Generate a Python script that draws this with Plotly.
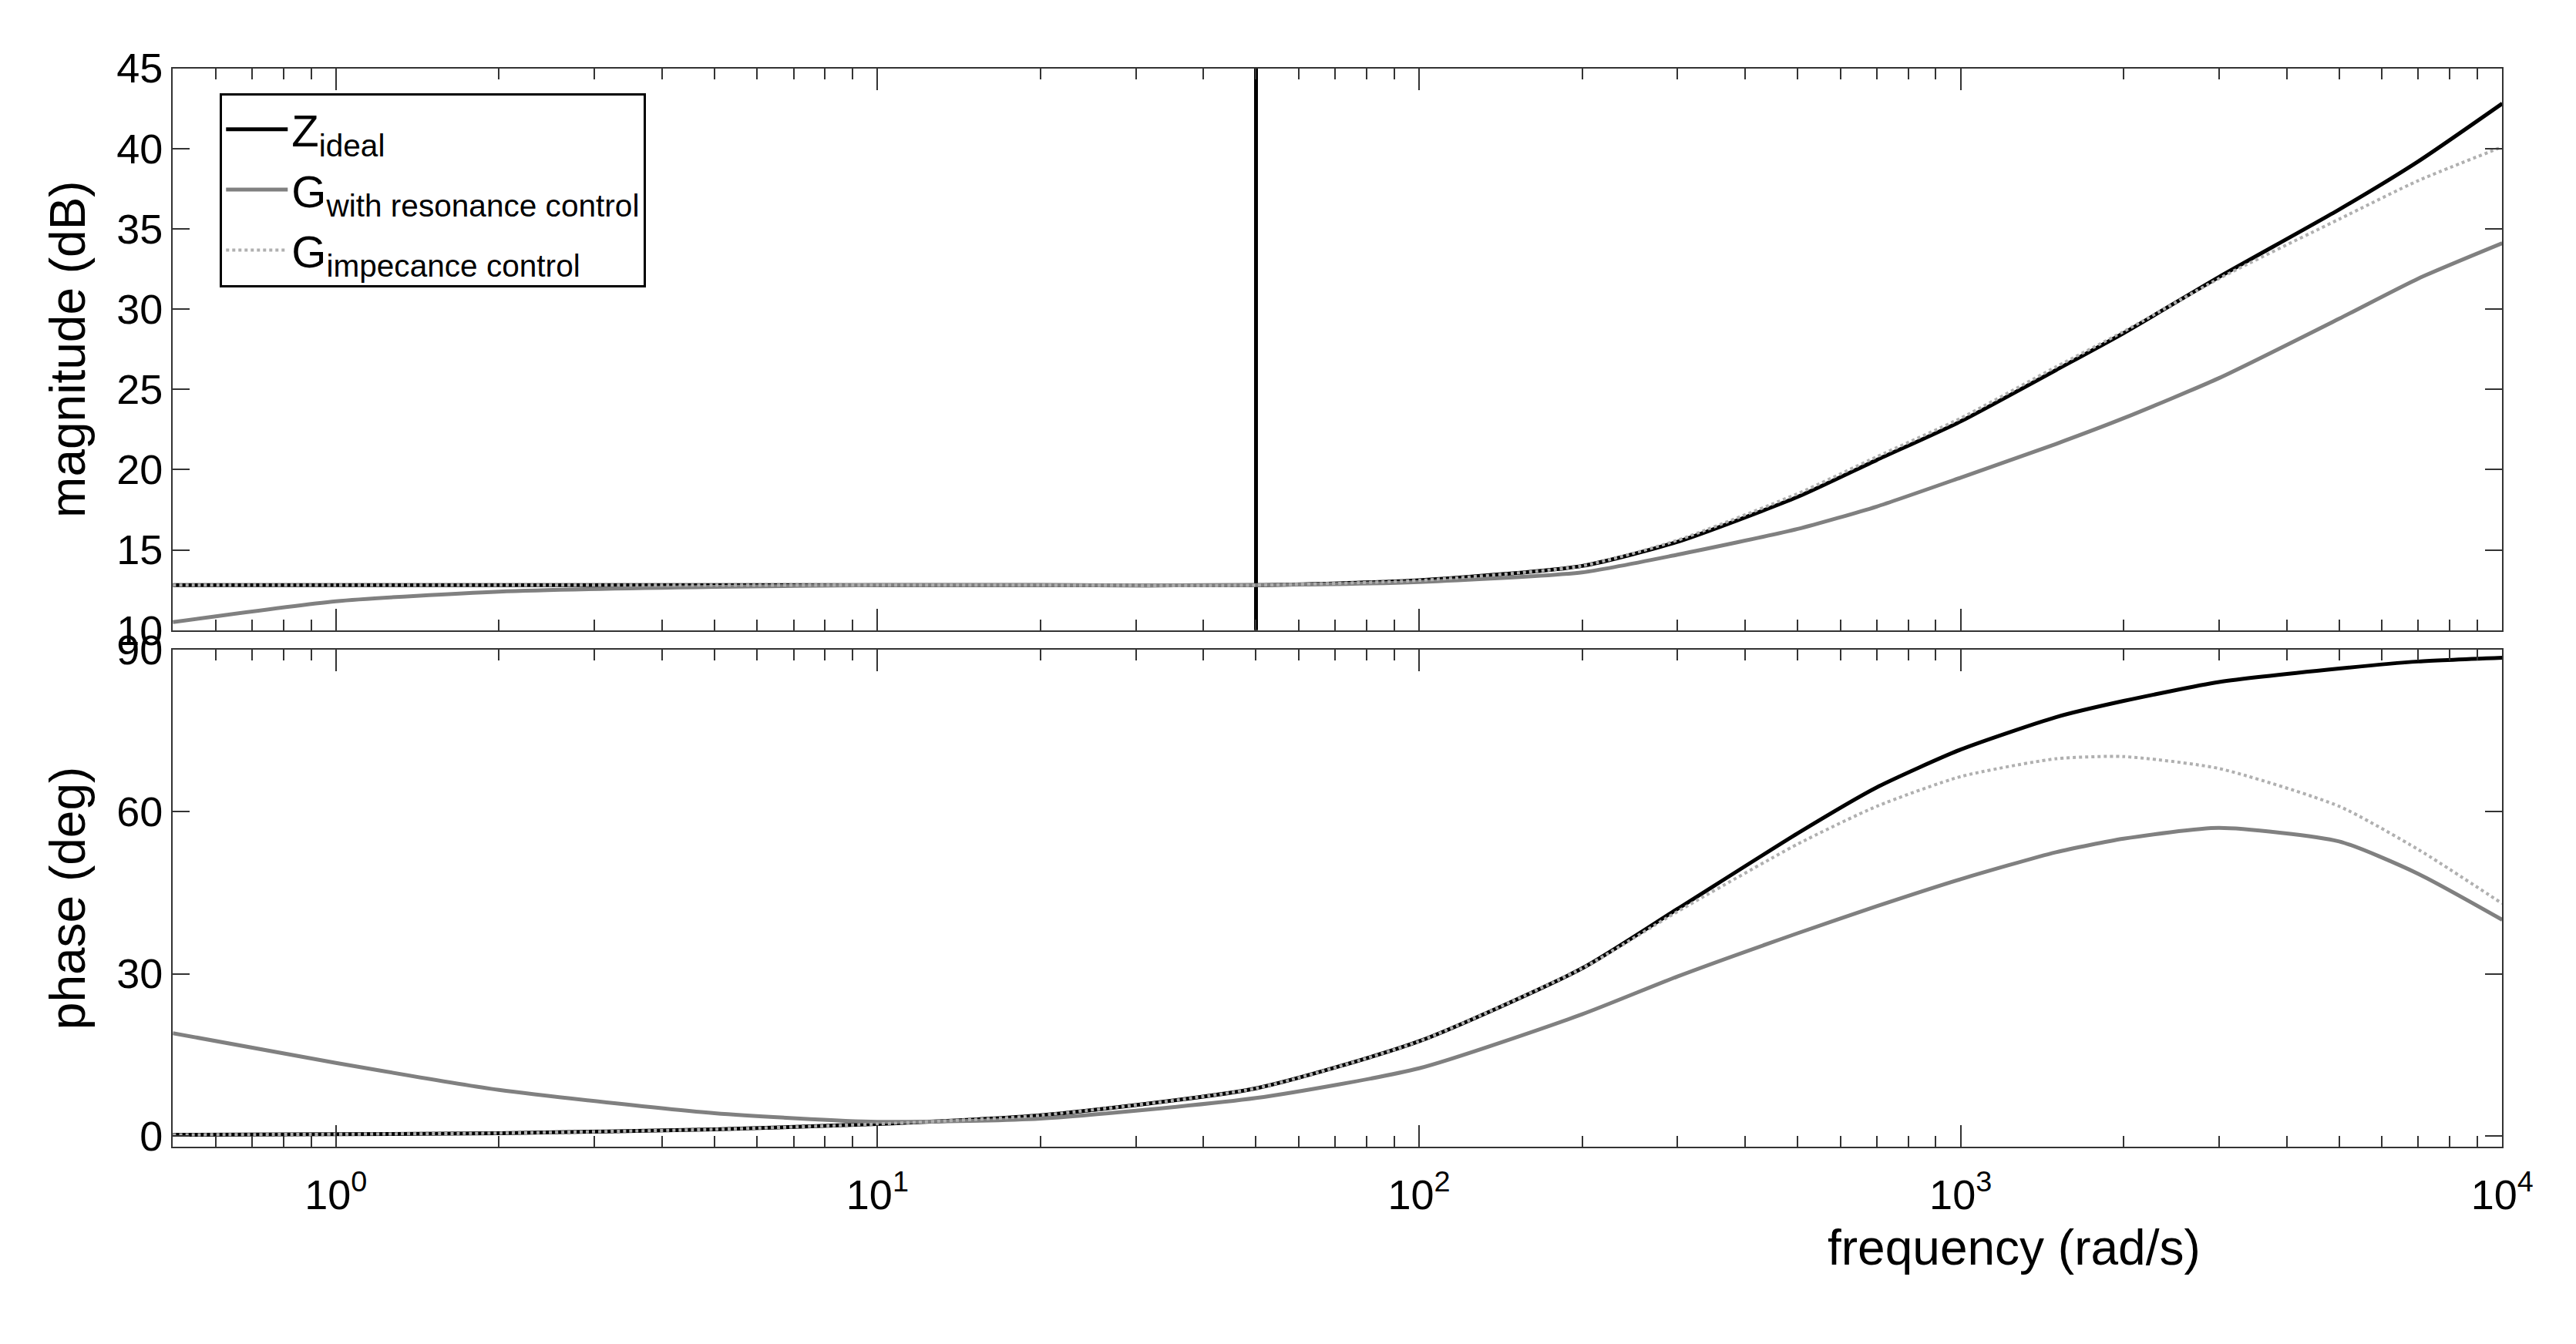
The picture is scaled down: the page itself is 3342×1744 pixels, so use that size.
import plotly.graph_objects as go

# frequency grid (rad/s) and read-off values
freq = [0.5, 1, 2, 5, 10, 20, 50, 100, 200, 300, 500, 700, 1000, 1500, 2000, 3000, 5000, 7000, 10000]

mag_ideal = [12.8, 12.8, 12.8, 12.8, 12.8, 12.8, 12.8, 13.1, 14.0, 15.5, 18.3, 20.6, 23.0, 26.2, 28.5, 32.0, 36.2, 39.2, 42.8]
mag_res = [10.5, 11.8, 12.4, 12.7, 12.8, 12.8, 12.8, 13.0, 13.6, 14.7, 16.3, 17.7, 19.5, 21.6, 23.2, 25.7, 29.4, 31.9, 34.1]
mag_imp = [12.8, 12.8, 12.8, 12.8, 12.8, 12.8, 12.8, 13.1, 14.0, 15.6, 18.5, 20.8, 23.2, 26.4, 28.6, 31.9, 35.6, 38.0, 40.1]

# vertical spike of Z_ideal at 50 rad/s
spike_f = [50, 50]
spike_mag = [46, 9]

ph_ideal = [0.2, 0.3, 0.5, 1.2, 2.2, 3.8, 8.8, 17.5, 31.0, 42.0, 56.0, 64.5, 71.5, 77.5, 80.5, 84.0, 86.5, 87.8, 88.5]
ph_res = [19.0, 13.5, 8.5, 4.2, 2.6, 3.2, 7.0, 12.5, 22.5, 29.5, 37.5, 42.5, 47.5, 52.5, 55.0, 57.0, 54.5, 48.5, 40.0]
ph_imp = [0.2, 0.3, 0.5, 1.2, 2.2, 3.8, 8.8, 17.5, 31.0, 41.5, 54.0, 61.0, 66.5, 69.8, 70.2, 68.0, 61.0, 53.0, 43.0]

BLACK = "#000000"
GRAY = "#808080"
LIGHT = "#b0b0b0"

fig = go.Figure()
fig.add_trace(go.Scatter(x=freq, y=mag_ideal, mode="lines", line=dict(color=BLACK, width=5, shape="spline", smoothing=0.6),
                         name="Z<sub>ideal</sub>", xaxis="x", yaxis="y"))
fig.add_trace(go.Scatter(x=spike_f, y=spike_mag, mode="lines", line=dict(color=BLACK, width=5),
                         showlegend=False, xaxis="x", yaxis="y"))
fig.add_trace(go.Scatter(x=freq, y=mag_res, mode="lines", line=dict(color=GRAY, width=5, shape="spline", smoothing=0.6),
                         name="G<sub>with resonance control</sub>", xaxis="x", yaxis="y"))
fig.add_trace(go.Scatter(x=freq, y=mag_imp, mode="lines", line=dict(color=LIGHT, width=4, dash="dot", shape="spline", smoothing=0.6),
                         name="G<sub>impecance control</sub>", xaxis="x", yaxis="y"))
fig.add_trace(go.Scatter(x=freq, y=ph_ideal, mode="lines", line=dict(color=BLACK, width=5, shape="spline", smoothing=0.6),
                         showlegend=False, xaxis="x2", yaxis="y2"))
fig.add_trace(go.Scatter(x=freq, y=ph_res, mode="lines", line=dict(color=GRAY, width=5, shape="spline", smoothing=0.6),
                         showlegend=False, xaxis="x2", yaxis="y2"))
fig.add_trace(go.Scatter(x=freq, y=ph_imp, mode="lines", line=dict(color=LIGHT, width=4, dash="dot", shape="spline", smoothing=0.6),
                         showlegend=False, xaxis="x2", yaxis="y2"))

font = dict(family="Liberation Sans, Arial", color="black")
xlog = dict(type="log", range=[-0.30103, 4], domain=[0.0655, 0.981],
            showline=True, linecolor="#333", linewidth=2, mirror="allticks",
            ticks="inside", ticklen=28, tickwidth=2, tickcolor="#333",
            tickvals=[1, 10, 100, 1000, 10000],
            minor=dict(ticks="inside", ticklen=14, tickwidth=2, tickcolor="#333",
                       tickvals=[m * 10 ** e for e in range(-1, 4) for m in range(2, 10) if 0.5 <= m * 10 ** e <= 10000]),
            showgrid=False, zeroline=False, tickfont=dict(size=54))
yax = dict(showline=True, linecolor="#333", linewidth=2, mirror="allticks",
           ticks="inside", ticklen=22, tickwidth=2, tickcolor="#333", showgrid=False, zeroline=False,
           tickfont=dict(size=54))
fig.update_layout(
    width=3342, height=1744, paper_bgcolor="white", plot_bgcolor="white",
    margin=dict(l=0, r=0, t=0, b=0), font=font,
    xaxis=dict(xlog, anchor="y", showticklabels=False),
    xaxis2=dict(xlog, anchor="y2", ticktext=["10<sup>0</sup>", "10<sup>1</sup>", "10<sup>2</sup>", "10<sup>3</sup>", "10<sup>4</sup>"],
                ticklabelstandoff=14),
    yaxis=dict(yax, domain=[0.537, 0.970], range=[10, 45], dtick=5, anchor="x",
               title=dict(text="magnitude (dB)", font=dict(size=64), standoff=20)),
    yaxis2=dict(yax, domain=[0.139, 0.522], range=[-2, 90], tickvals=[0, 30, 60, 90], anchor="x2",
                title=dict(text="phase (deg)", font=dict(size=64), standoff=20)),
    legend=dict(x=0.084, y=0.951, xanchor="left", yanchor="top", bgcolor="white",
                bordercolor="black", borderwidth=3, font=dict(size=58), itemwidth=80,
                tracegroupgap=16),
    annotations=[dict(text="frequency (rad/s)", x=0.863, y=1 - 1677 / 1744, xref="paper", yref="paper",
                      showarrow=False, font=dict(size=64))],
)

fig.write_html("out.html")
